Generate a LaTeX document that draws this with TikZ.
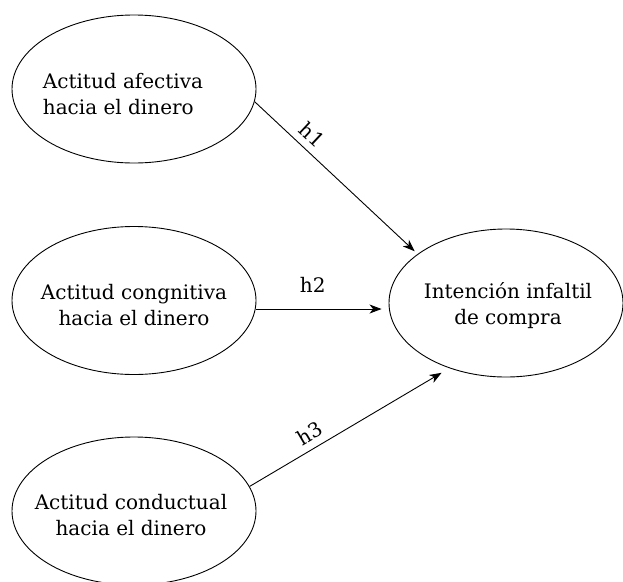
\documentclass[tikz,border=0pt]{standalone}
\usepackage{fontspec}
\setmainfont{DejaVu Serif}
\usetikzlibrary{shapes.geometric,arrows.meta}
\tikzset{
  ell/.style={draw, ellipse, line width=0.9pt, minimum width=244pt, minimum height=148pt, inner sep=0pt},
  txt/.style={font=\fontsize{20}{26}\selectfont, align=center, inner sep=0pt},
  arr/.style={line width=0.9pt, -{Stealth[length=12pt,width=9pt,inset=3.5pt]}},
  lab/.style={font=\fontsize{20}{22}\selectfont, inner sep=1pt}
}
\begin{document}
\begin{tikzpicture}[x=1pt,y=-1pt]
\useasboundingbox (0,0) rectangle (623,581);
\node[ell] (e1) at (134,89) {};
\node[txt, align=left] (t1) at (123,94) {Actitud afectiva\\hacia el dinero};
\node[ell] (e2) at (134,300.5) {};
\node[txt] (t2) at (134,305) {Actitud congnitiva\\hacia el dinero};
\node[ell] (e3) at (134,511) {};
\node[txt] (t3) at (131,515) {Actitud conductual\\hacia el dinero};
\node[ell, minimum width=234pt] (e4) at (506,303) {};
\node[txt] (t4) at (508,306) {Intención infaltil\\de compra};
\draw[arr, shorten >=4pt] (e1.-6) -- node[lab, pos=0.29, sloped, above=6pt] {h1} (e4.151);
\draw[arr, shorten >=7pt] (e2.-4) -- node[lab, pos=0.43, above=15pt] {h2} (e2.-4 -| e4.west);
\draw[arr, shorten >=9pt] (e3.12) -- node[lab, pos=0.34, sloped, above=6pt] {h3} (e4.-131);
\end{tikzpicture}
\end{document}
